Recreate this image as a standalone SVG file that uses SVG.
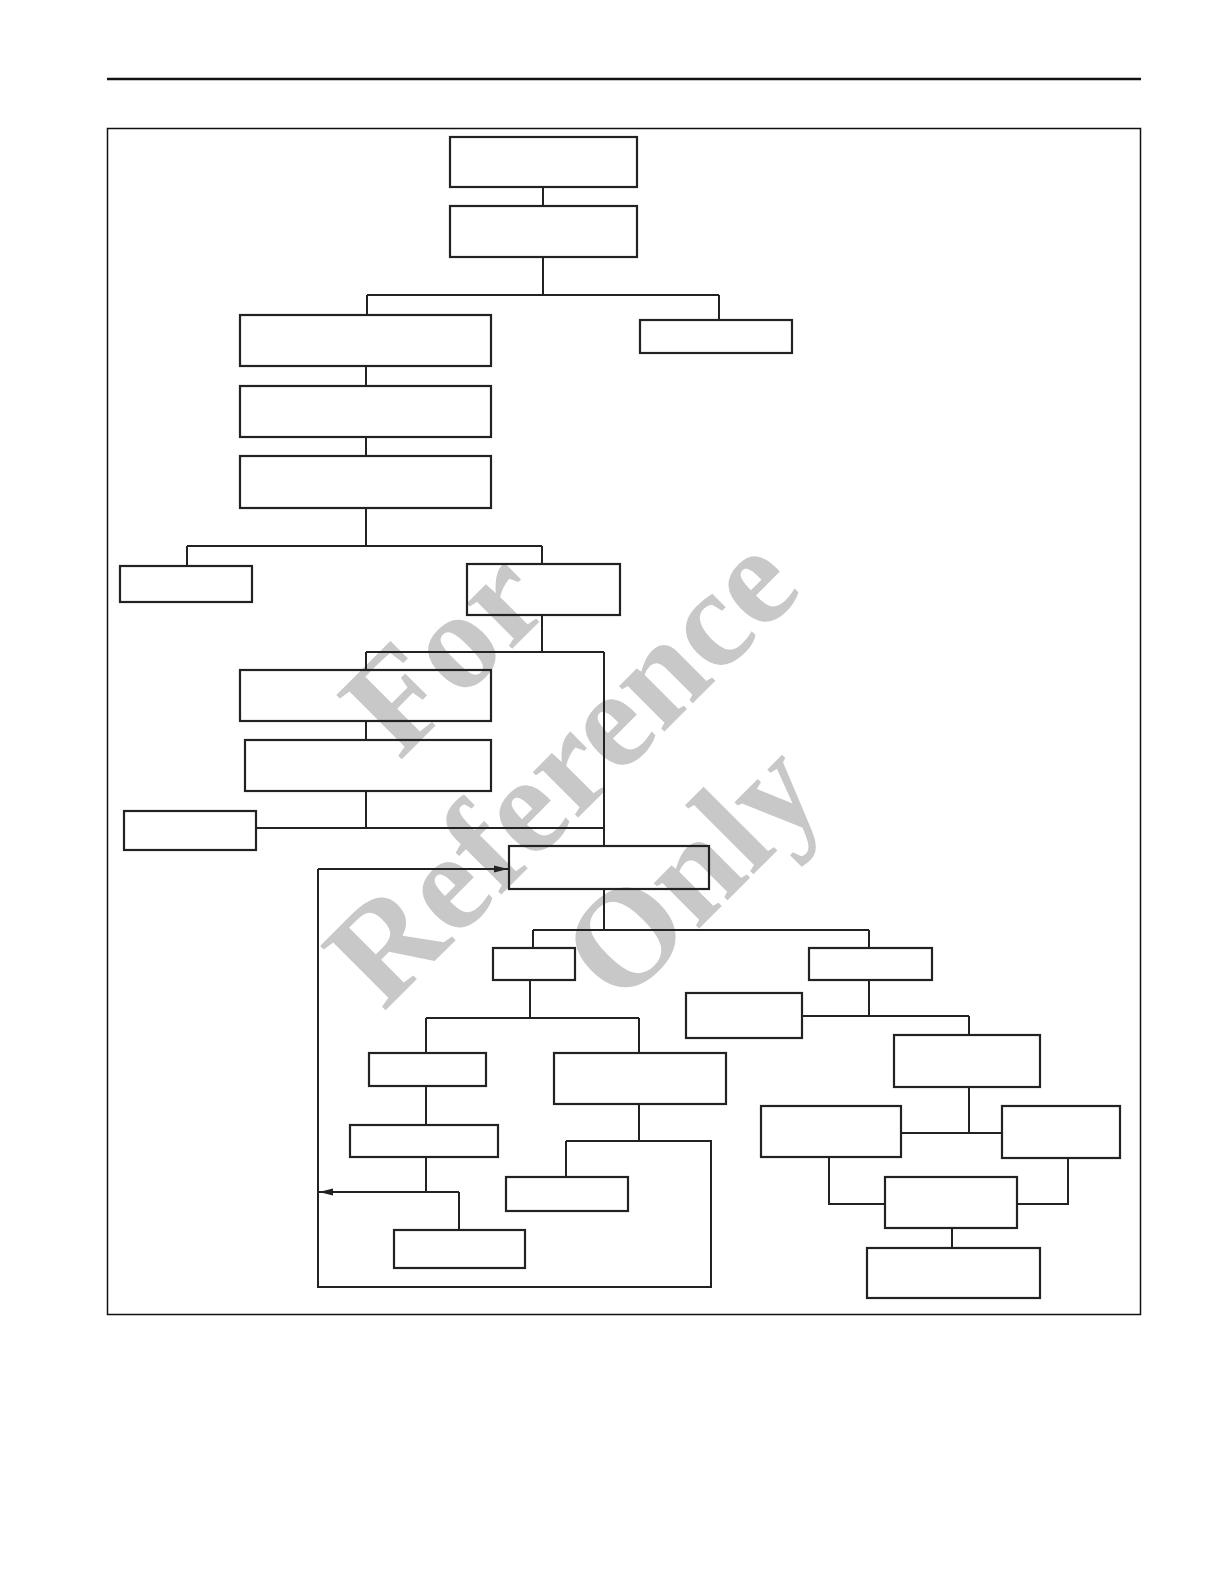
<svg xmlns="http://www.w3.org/2000/svg" width="1224" height="1584" viewBox="0 0 1224 1584">
<style>
.box{fill:none;stroke:#222;stroke-width:2.2}
.ln{fill:none;stroke:#222;stroke-width:2}
.wm{font-family:"Liberation Serif","Times New Roman",serif;font-weight:bold;font-size:140px;fill:#c8c8c8;text-anchor:middle}
</style>
<defs>
<marker id="ah" viewBox="0 0 14 8" refX="14" refY="4" markerWidth="14" markerHeight="8" markerUnits="userSpaceOnUse" orient="auto"><path d="M0,0.5 L14,4 L0,7.5 Z" fill="#222"/></marker>
</defs>
<rect width="1224" height="1584" fill="#fff"/>
<line x1="107" y1="79" x2="1141" y2="79" stroke="#111" stroke-width="2.5"/>
<rect x="107.5" y="128.5" width="1033" height="1186" fill="none" stroke="#111" stroke-width="1.5"/>
<g id="watermark" transform="translate(560,768) rotate(-45)">
<text class="wm" x="0" y="-118">For</text>
<text class="wm" x="0" y="48">Reference</text>
<text class="wm" x="20" y="212">Only</text>
</g>
<g id="connectors">
<path class="ln" d="M543,187 V206 M543,257 V295 M367,295 H719 M367,295 V315 M719,295 V320"/>
<path class="ln" d="M366,366 V386 M366,437 V456 M366,508 V546 M187,546 H542 M187,546 V566 M542,546 V564"/>
<path class="ln" d="M542,615 V652 M366,652 H604 M366,652 V670 M604,652 V846"/>
<path class="ln" d="M366,721 V740 M366,791 V828 M256,828 H604"/>
<path class="ln" d="M604,889 V930 M533,930 H869 M533,930 V948 M869,930 V948"/>
<path class="ln" d="M530,980 V1018 M426,1018 H639 M426,1018 V1053 M639,1018 V1053"/>
<path class="ln" d="M869,980 V1016 M802,1016 H969 M969,1016 V1035"/>
<path class="ln" d="M426,1086 V1125 M426,1157 V1192 M459,1192 V1230"/>
<path class="ln" d="M459,1192 H319" marker-end="url(#ah)"/>
<path class="ln" d="M639,1104 V1141 M566,1141 H711 V1287 H318 V869 M566,1141 V1177"/>
<path class="ln" d="M318,869 H508" marker-end="url(#ah)"/>
<path class="ln" d="M969,1087 V1133 M901,1133 H1002"/>
<path class="ln" d="M829,1157 V1204 H885 M1068,1158 V1204 H1017 M952,1228 V1248"/>
</g>
<g id="n1"><rect class="box" x="450" y="137" width="187" height="50"/></g>
<g id="n2"><rect class="box" x="450" y="206" width="187" height="51"/></g>
<g id="n3"><rect class="box" x="240" y="315" width="251" height="51"/></g>
<g id="n4"><rect class="box" x="640" y="320" width="152" height="33"/></g>
<g id="n5"><rect class="box" x="240" y="386" width="251" height="51"/></g>
<g id="n6"><rect class="box" x="240" y="456" width="251" height="52"/></g>
<g id="n7"><rect class="box" x="120" y="566" width="132" height="36"/></g>
<g id="n8"><rect class="box" x="467" y="564" width="153" height="51"/></g>
<g id="n9"><rect class="box" x="240" y="670" width="251" height="51"/></g>
<g id="n10"><rect class="box" x="245" y="740" width="246" height="51"/></g>
<g id="n11"><rect class="box" x="124" y="811" width="132" height="39"/></g>
<g id="n12"><rect class="box" x="509" y="846" width="200" height="43"/></g>
<g id="n13"><rect class="box" x="493" y="948" width="82" height="32"/></g>
<g id="n14"><rect class="box" x="809" y="948" width="123" height="32"/></g>
<g id="n15"><rect class="box" x="686" y="993" width="116" height="45"/></g>
<g id="n16"><rect class="box" x="894" y="1035" width="146" height="52"/></g>
<g id="n17"><rect class="box" x="369" y="1053" width="117" height="33"/></g>
<g id="n18"><rect class="box" x="554" y="1053" width="172" height="51"/></g>
<g id="n19"><rect class="box" x="350" y="1125" width="148" height="32"/></g>
<g id="n20"><rect class="box" x="394" y="1230" width="131" height="38"/></g>
<g id="n21"><rect class="box" x="506" y="1177" width="122" height="34"/></g>
<g id="n22"><rect class="box" x="761" y="1106" width="140" height="51"/></g>
<g id="n23"><rect class="box" x="1002" y="1106" width="118" height="52"/></g>
<g id="n24"><rect class="box" x="885" y="1177" width="132" height="51"/></g>
<g id="n25"><rect class="box" x="867" y="1248" width="173" height="50"/></g>
</svg>
